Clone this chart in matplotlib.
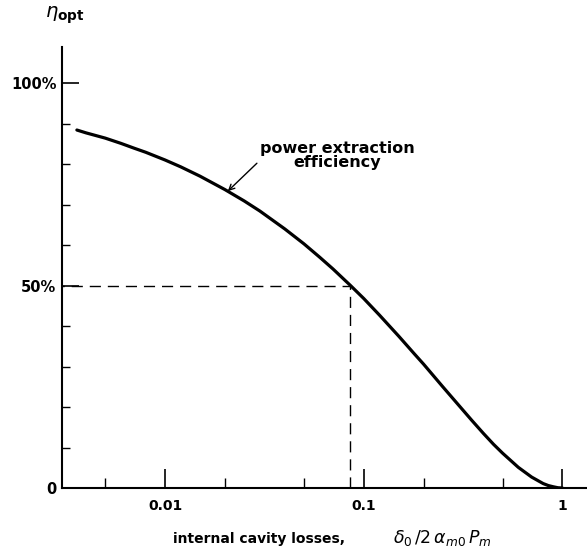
import numpy as np
import matplotlib
matplotlib.use('Agg')
import matplotlib.pyplot as plt
from matplotlib.ticker import FixedLocator, FixedFormatter, NullFormatter

# normalised internal cavity losses and the optimum extraction efficiency (%)
losses = [0.0036, 0.004, 0.005, 0.006, 0.007, 0.008, 0.01, 0.012, 0.015,
          0.02, 0.025, 0.03, 0.04, 0.05, 0.06, 0.07, 0.0858, 0.1, 0.12,
          0.15, 0.18, 0.2, 0.25, 0.3, 0.35, 0.4, 0.45, 0.5, 0.6, 0.7,
          0.8, 0.85, 0.9, 0.95, 1.0]
eta_opt = [88.4, 87.7, 86.4, 85.1, 83.9, 82.9, 81.0, 79.3, 77.0,
           73.7, 70.9, 68.4, 64.0, 60.3, 57.0, 54.1, 50.0, 46.8, 42.7,
           37.5, 33.1, 30.6, 25.0, 20.5, 16.7, 13.5, 10.8, 8.6, 5.1, 2.7,
           1.1, 0.6, 0.3, 0.06, 0.0]

# the half-efficiency point marked with dashed guides
half_loss = 0.0858
half_eta = 50.0

x_major = [0.01, 0.1, 1]
x_major_labels = ['0.01', '0.1', '1']
x_minor = [0.005, 0.02, 0.05, 0.2, 0.5]
y_major = [0, 50, 100]
y_major_labels = ['0', '50%', '100%']
y_minor = [10, 20, 30, 40, 60, 70, 80, 90]

W, H = 587, 552
fig = plt.figure(figsize=(W / 100, H / 100), dpi=100)
ax = fig.add_axes([62 / W, 1 - 488 / H, (W - 62) / W, (488 - 47) / H])

ax.plot(losses, eta_opt, color='black', lw=2.3, solid_capstyle='round',
        solid_joinstyle='round')
ax.plot([0.001, half_loss], [half_eta, half_eta], color='black', lw=1.0,
        dashes=(8, 5))
ax.plot([half_loss, half_loss], [0, half_eta], color='black', lw=1.0,
        dashes=(8, 5))

ax.set_xscale('log')
ax.set_xlim(0.00303, 1.33)
ax.set_ylim(0, 108.9)

for side in ['top', 'right']:
    ax.spines[side].set_visible(False)
for side in ['left', 'bottom']:
    ax.spines[side].set_linewidth(1.5)

ax.xaxis.set_major_locator(FixedLocator(x_major))
ax.xaxis.set_major_formatter(FixedFormatter(x_major_labels))
ax.xaxis.set_minor_locator(FixedLocator(x_minor))
ax.xaxis.set_minor_formatter(NullFormatter())
ax.yaxis.set_major_locator(FixedLocator(y_major))
ax.yaxis.set_major_formatter(FixedFormatter(y_major_labels))
ax.yaxis.set_minor_locator(FixedLocator(y_minor))

ax.tick_params(axis='x', which='major', direction='in', length=14, width=1.2,
               pad=8, labelsize=10)
ax.tick_params(axis='x', which='minor', direction='in', length=7, width=1.0)
ax.tick_params(axis='y', which='major', direction='in', length=12, width=1.2,
               pad=4, labelsize=10.5)
ax.tick_params(axis='y', which='minor', direction='in', length=6, width=1.0)
for lbl in ax.get_xticklabels() + ax.get_yticklabels():
    lbl.set_fontweight('bold')

# axis titles
fig.text(173 / W, 1 - 543 / H, 'internal cavity losses,', fontsize=10,
         fontweight='bold', ha='left', va='baseline')
fig.text(393 / W, 1 - 543 / H, r'$\delta_0\,/2\,\alpha_{m0}\,P_m$',
         fontsize=12.5, ha='left', va='baseline')
fig.text(45 / W, 1 - 18 / H, r'$\eta_{\mathbf{opt}}$', fontsize=14,
         ha='left', va='baseline')

ax.text(0.0736, 82.1, 'power extraction\nefficiency', ha='center',
        va='center', fontsize=11.5, fontweight='bold', linespacing=0.95)
ax.annotate('', xy=(0.0207, 73.3), xytext=(0.029, 80.2),
            arrowprops=dict(arrowstyle='->', color='black', lw=1.0,
                            shrinkA=0, shrinkB=0))

fig.savefig('out.png', dpi=100)
